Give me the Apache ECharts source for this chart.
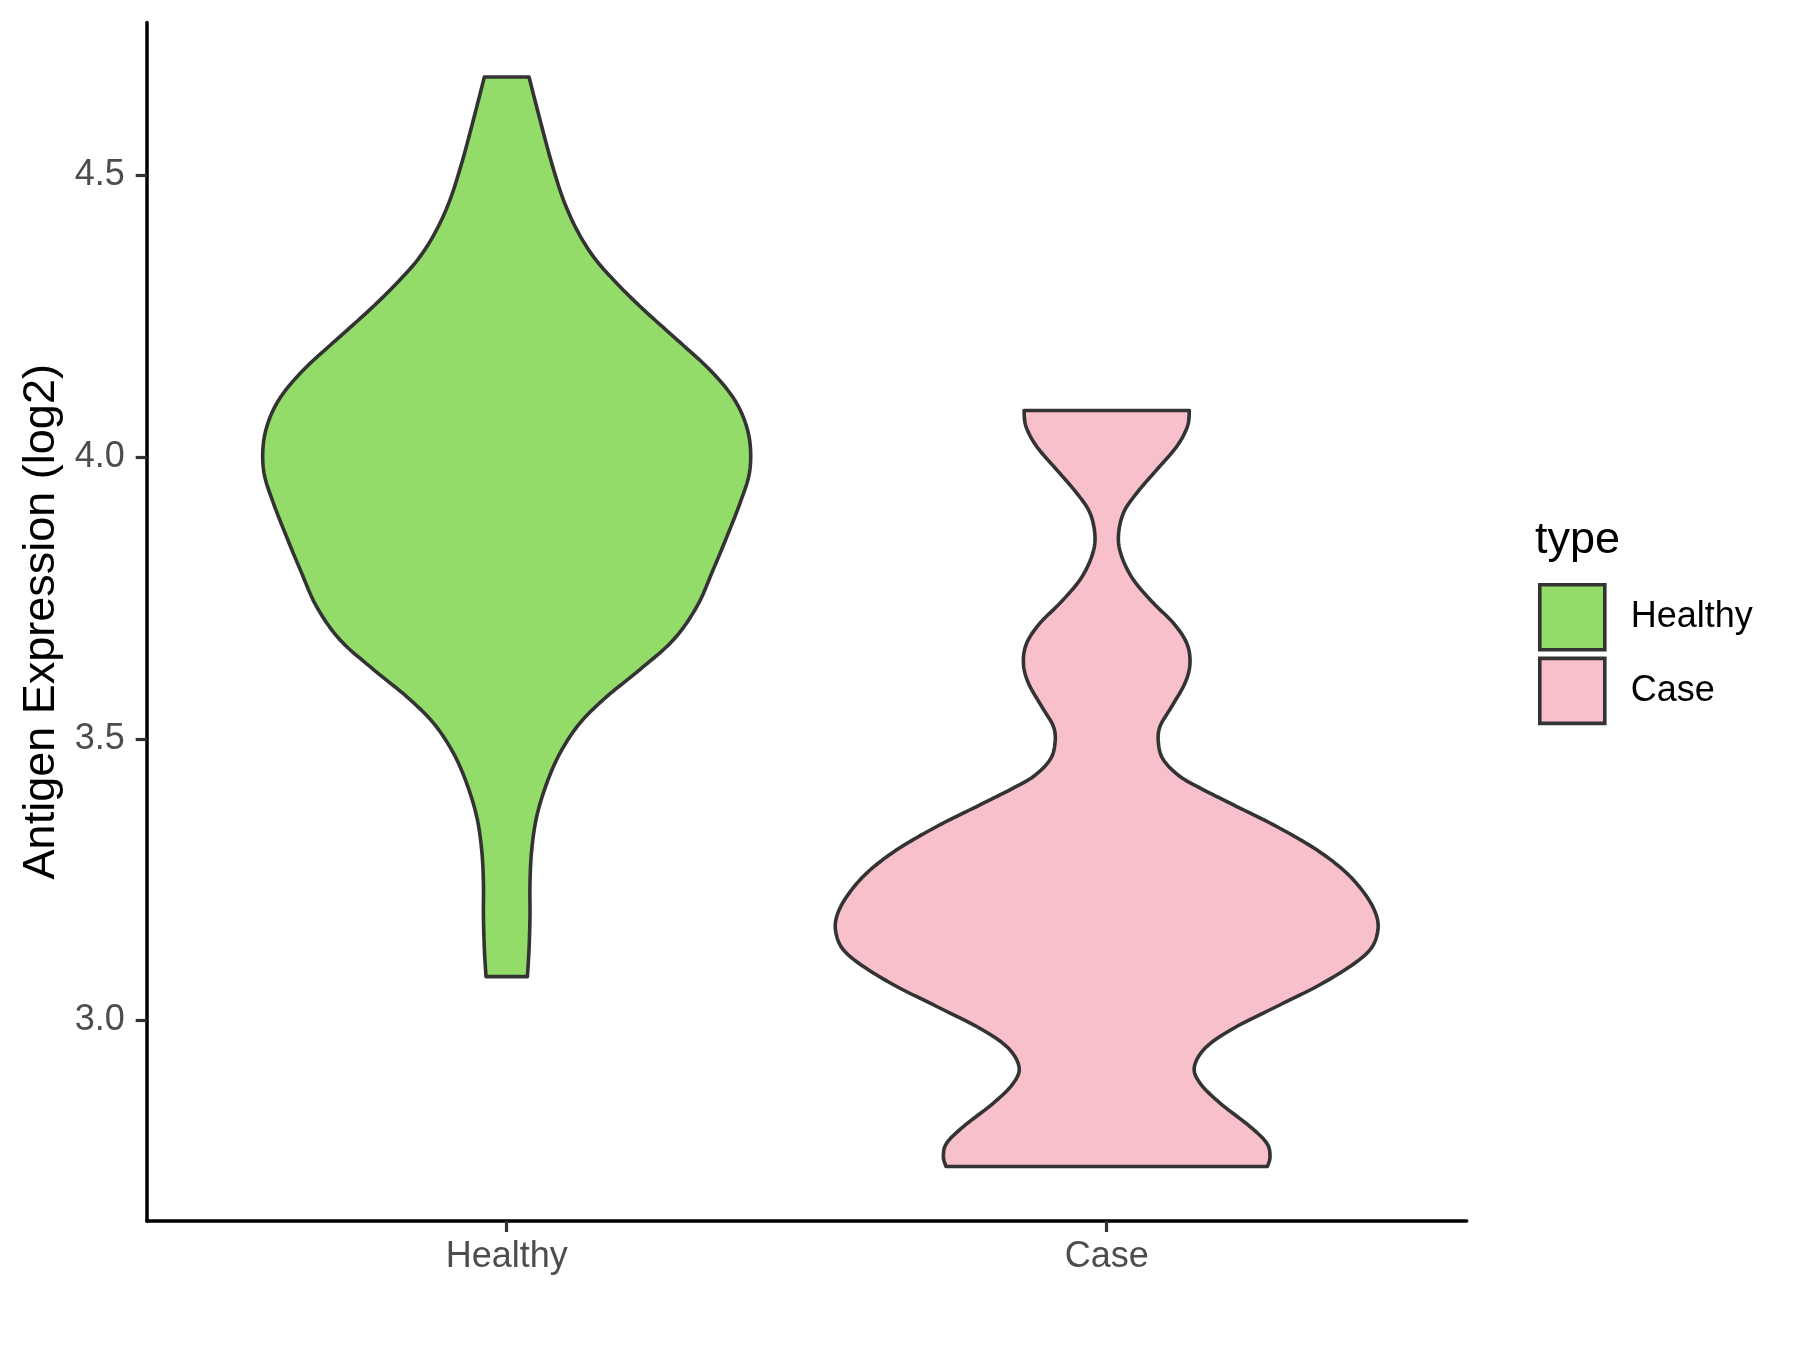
<!DOCTYPE html>
<html>
<head>
<meta charset="utf-8">
<script src="https://cdn.jsdelivr.net/npm/echarts@6/dist/echarts.min.js"></script>
<style>
html,body{margin:0;padding:0;background:#fff;}
#chart{width:1800px;height:1350px;}
</style>
</head>
<body>
<div id="chart"></div>
<script>
// ---- data ----
const categories = ['Healthy', 'Case'];
const yTicks = [3.0, 3.5, 4.0, 4.5];

// Healthy violin: density outline (value, half width in category units), top -> bottom
const healthyValues = [4.675, 4.599, 4.522, 4.457, 4.404, 4.356, 4.315, 4.268, 4.214, 4.161, 4.114, 4.072, 4.025, 3.972, 3.919, 3.859, 3.800, 3.735, 3.676, 3.623, 3.575, 3.528, 3.475, 3.421, 3.362, 3.303, 3.244, 3.185, 3.126, 3.078];
const healthyHalfWidth = [0.0372, 0.0555, 0.075, 0.0945, 0.1167, 0.1445, 0.1778, 0.222, 0.278, 0.333, 0.372, 0.394, 0.4055, 0.4045, 0.389, 0.367, 0.344, 0.317, 0.278, 0.222, 0.1667, 0.122, 0.089, 0.0667, 0.05, 0.0417, 0.0388, 0.0388, 0.0372, 0.0345];

// Case violin
const caseValues = [4.0829, 4.0545, 4.019, 3.9776, 3.9363, 3.9008, 3.8592, 3.8237, 3.7824, 3.741, 3.7055, 3.67, 3.6345, 3.599, 3.5574, 3.5219, 3.4925, 3.4628, 3.4332, 3.4096, 3.3799, 3.3444, 3.303, 3.2617, 3.2201, 3.1846, 3.1552, 3.1255, 3.0959, 3.0604, 3.0249, 2.9893, 2.9538, 2.9183, 2.8889, 2.8534, 2.8118, 2.7824, 2.7586, 2.7408];
const caseHalfWidth = [0.1378, 0.1345, 0.1167, 0.0833, 0.05, 0.0278, 0.0195, 0.025, 0.0445, 0.0778, 0.1112, 0.1333, 0.1388, 0.1305, 0.1083, 0.0888, 0.0862, 0.0945, 0.1222, 0.1612, 0.2167, 0.2833, 0.35, 0.4, 0.4333, 0.45, 0.4512, 0.4388, 0.4055, 0.35, 0.2833, 0.2167, 0.1667, 0.1462, 0.1555, 0.1888, 0.2388, 0.2667, 0.2722, 0.2678];

const colors = {Healthy: '#93DC6A', Case: '#F8C0CB'};
const outline = '#333333';
const FONT = '"Liberation Sans", Arial, sans-serif';

// smooth an outline through points (Catmull-Rom sampled) for drawing
function smoothSide(pts) {
  const out = [];
  const n = pts.length;
  for (let i = 0; i < n - 1; i++) {
    const p0 = pts[Math.max(i - 1, 0)], p1 = pts[i], p2 = pts[i + 1], p3 = pts[Math.min(i + 2, n - 1)];
    const steps = 10;
    for (let s = 0; s < steps; s++) {
      const t = s / steps, t2 = t * t, t3 = t2 * t;
      const f = (a, b, c, d) => 0.5 * ((2 * b) + (-a + c) * t + (2 * a - 5 * b + 4 * c - d) * t2 + (-a + 3 * b - 3 * c + d) * t3);
      out.push([f(p0[0], p1[0], p2[0], p3[0]), f(p0[1], p1[1], p2[1], p3[1])]);
    }
  }
  out.push(pts[n - 1]);
  return out;
}

function violinRenderer(values, halfWidth, fill) {
  return function (params, api) {
    const c = api.value(0);
    const left = values.map((v, i) => api.coord([c - halfWidth[i], v]));
    const right = values.map((v, i) => api.coord([c + halfWidth[i], v]));
    const pts = smoothSide(left).concat(smoothSide(right.reverse()));
    return {
      type: 'polygon',
      shape: {points: pts},
      style: {fill: fill, stroke: outline, lineWidth: 3.6, lineJoin: 'round'}
    };
  };
}

const chart = echarts.init(document.getElementById('chart'), null, {renderer: 'canvas'});
chart.setOption({
  animation: false,
  backgroundColor: '#ffffff',
  grid: {left: 146.7, right: 333.3, top: 22.5, bottom: 129, containLabel: false},
  title: {
    text: 'type', left: 1530, top: 513,
    textStyle: {fontFamily: FONT, fontSize: 45, fontWeight: 'normal', color: '#000000'}
  },
  legend: {
    orient: 'vertical', left: 1533, top: 578,
    itemWidth: 65, itemHeight: 65, itemGap: 5, icon: 'rect',
    selectedMode: false,
    textStyle: {fontFamily: FONT, fontSize: 36, color: '#000000', padding: [0, 0, 0, 21]},
    data: categories.map(n => ({name: n, itemStyle: {color: colors[n], borderColor: outline, borderWidth: 3.6}}))
  },
  xAxis: {
    type: 'value', min: 0.4, max: 2.6,
    splitLine: {show: false},
    axisLine: {show: true, onZero: false, lineStyle: {color: '#000000', width: 3.5}},
    axisTick: {show: true, customValues: [1, 2], length: 11, lineStyle: {color: '#333333', width: 3.2}},
    axisLabel: {
      customValues: [1, 2], margin: 18.5,
      formatter: v => categories[Math.round(v) - 1] || '',
      fontFamily: FONT, fontSize: 36, color: '#4D4D4D'
    }
  },
  yAxis: {
    type: 'value', min: 2.6441, max: 4.7717,
    name: 'Antigen Expression (log2)', nameLocation: 'middle', nameGap: 83, nameRotate: 90,
    nameTextStyle: {fontFamily: FONT, fontSize: 45, color: '#000000'},
    splitLine: {show: false},
    axisLine: {show: true, onZero: false, lineStyle: {color: '#000000', width: 3.5}},
    axisTick: {show: true, customValues: yTicks, length: 11, lineStyle: {color: '#333333', width: 3.2}},
    axisLabel: {
      customValues: yTicks, margin: 22,
      formatter: v => Number(v).toFixed(1),
      fontFamily: FONT, fontSize: 36, color: '#4D4D4D'
    }
  },
  series: [
    {type: 'custom', name: 'Healthy', data: [[1]], clip: false,
     itemStyle: {color: colors.Healthy, borderColor: outline, borderWidth: 3.6},
     renderItem: violinRenderer(healthyValues, healthyHalfWidth, colors.Healthy)},
    {type: 'custom', name: 'Case', data: [[2]], clip: false,
     itemStyle: {color: colors.Case, borderColor: outline, borderWidth: 3.6},
     renderItem: violinRenderer(caseValues, caseHalfWidth, colors.Case)}
  ]
});
</script>
</body>
</html>
